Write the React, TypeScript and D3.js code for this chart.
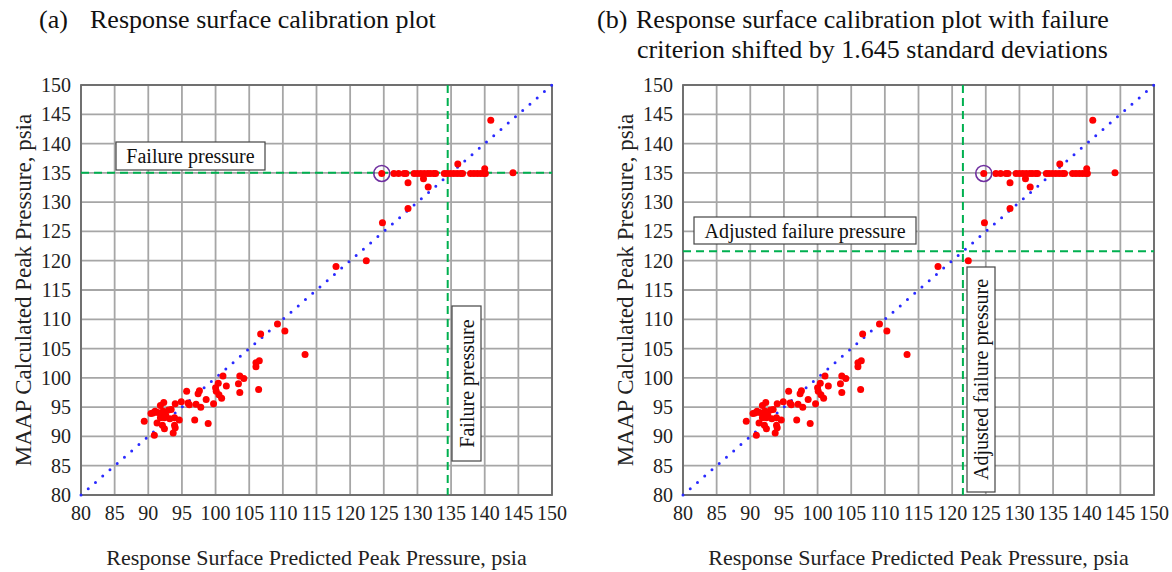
import React from "react";
import * as d3 from "d3";

// ---- data ----
const tickValues = [80, 85, 90, 95, 100, 105, 110, 115, 120, 125, 130, 135, 140, 145, 150];

const clusterX = [89.4, 90.4, 90.7, 91.0, 91.4, 91.8, 92.3, 92.2, 93.0, 93.4, 92.0, 92.6, 92.4, 91.8, 93.2, 93.9, 94.6, 91.3, 92.1, 92.4, 93.9, 94.0, 93.7, 90.9];
const clusterY = [92.6, 93.9, 94.0, 94.3, 94.1, 95.3, 95.8, 94.3, 94.5, 94.6, 93.6, 93.6, 93.2, 93.2, 93.0, 93.2, 92.8, 92.3, 91.9, 91.3, 91.9, 91.5, 90.6, 90.2];

const midX = [94.0, 94.9, 95.9, 96.1, 97.1, 97.8, 95.7, 97.4, 97.6, 96.9, 98.9, 98.6, 99.7, 100.0, 100.1, 100.5, 100.9, 100.4, 101.1, 101.6, 103.6, 104.2, 103.4, 103.6, 106.0, 106.5, 106.0, 106.4, 106.7, 109.2, 110.3, 113.3, 117.9, 122.4, 124.8, 128.6, 128.6, 130.9, 131.6, 136.0, 140.0, 140.9, 144.2];
const midY = [95.6, 95.9, 95.7, 95.4, 95.5, 95.0, 97.7, 97.3, 97.8, 92.8, 92.2, 96.3, 95.6, 98.3, 97.7, 97.1, 96.5, 99.1, 100.3, 98.6, 100.3, 99.9, 99.0, 97.5, 102.6, 102.9, 101.9, 98.0, 107.5, 109.2, 108.0, 104.0, 119.0, 120.0, 126.5, 128.9, 133.3, 134.0, 132.6, 136.5, 135.7, 144.0, 135.0];

// points capped at the failure pressure
const cappedX = [124.7, 126.5, 127.2, 128.0, 128.3, 129.5, 130.0, 130.5, 131.0, 131.5, 131.9, 132.4, 132.7, 134.0, 134.4, 134.9, 135.4, 135.9, 136.4, 136.7, 137.9, 138.4, 138.9, 139.4, 139.9, 140.1];
const cappedY = 134.9;

const failurePressure = 135;
const failurePressureX = 134.5;
const adjustedFailurePressure = 121.6;
const circledPoint = [124.7, 134.9];

const points: [number, number][] = [
  ...clusterX.map((x, i) => [x, clusterY[i]] as [number, number]),
  ...midX.map((x, i) => [x, midY[i]] as [number, number]),
  ...cappedX.map((x) => [x, cappedY] as [number, number]),
];

const FONT = "'Liberation Serif', 'Times New Roman', serif";

type PanelProps = {
  left: number;
  hLine: number;
  vLine: number;
  hBox: { x: number; y: number; w: number; h: number; text: string };
  vBox: { x: number; y: number; w: number; h: number; text: string };
};

function Panel({ left, hLine, vLine, hBox, vBox }: PanelProps) {
  const top = 85;
  const width = 471;
  const height = 410;
  const x = d3.scaleLinear().domain([80, 150]).range([left, left + width]);
  const y = d3.scaleLinear().domain([80, 150]).range([top + height, top]);
  const diag = d3.line<number>().x((d) => x(d)).y((d) => y(d))([80, 150]) || "";
  return (
    <g>
      {tickValues.map((t) => (
        <line key={"vx" + t} x1={x(t)} x2={x(t)} y1={top} y2={top + height} stroke="#a6a6a6" strokeWidth={1.8} />
      ))}
      {tickValues.map((t) => (
        <line key={"hy" + t} x1={left} x2={left + width} y1={y(t)} y2={y(t)} stroke="#a6a6a6" strokeWidth={1.8} />
      ))}
      <rect x={left} y={top} width={width} height={height} fill="none" stroke="#6b6b6b" strokeWidth={1.8} />
      {tickValues.map((t) => (
        <text key={"xl" + t} x={x(t)} y={520} textAnchor="middle" fontSize={20} fontFamily={FONT} fill="#222">
          {t}
        </text>
      ))}
      {tickValues.map((t) => (
        <text key={"yl" + t} x={left - 10} y={y(t) + 7} textAnchor="end" fontSize={20} fontFamily={FONT} fill="#222">
          {t}
        </text>
      ))}
      <path d={diag} stroke="#2a2aff" strokeWidth={3} strokeDasharray="0 9.6" strokeLinecap="round" fill="none" />
      <line x1={left} x2={left + width} y1={y(hLine)} y2={y(hLine)} stroke="#00b050" strokeWidth={2} strokeDasharray="8 5" />
      <line x1={x(vLine)} x2={x(vLine)} y1={top} y2={top + height} stroke="#00b050" strokeWidth={2} strokeDasharray="8 5" />
      {points.map((p, i) => (
        <circle key={"p" + i} cx={x(p[0])} cy={y(p[1])} r={3.5} fill="#ff0000" />
      ))}
      <circle cx={x(circledPoint[0])} cy={y(circledPoint[1])} r={8} fill="none" stroke="#7030a0" strokeWidth={1.6} />
      <rect x={hBox.x} y={hBox.y} width={hBox.w} height={hBox.h} fill="#fff" stroke="#444" strokeWidth={1.2} />
      <text x={hBox.x + hBox.w / 2} y={hBox.y + hBox.h / 2 + 7} textAnchor="middle" fontSize={20} fontFamily={FONT} fill="#111">
        {hBox.text}
      </text>
      <rect x={vBox.x} y={vBox.y} width={vBox.w} height={vBox.h} fill="#fff" stroke="#444" strokeWidth={1.2} />
      <text
        transform={`translate(${vBox.x + vBox.w / 2 + 7},${vBox.y + vBox.h / 2}) rotate(-90)`}
        textAnchor="middle"
        fontSize={20}
        fontFamily={FONT}
        fill="#111"
      >
        {vBox.text}
      </text>
      <text x={left + width / 2} y={565} textAnchor="middle" fontSize={22} fontFamily={FONT} fill="#222">
        Response Surface Predicted Peak Pressure, psia
      </text>
      <text
        transform={`translate(${left - 50},${top + height / 2}) rotate(-90)`}
        textAnchor="middle"
        fontSize={23}
        fontFamily={FONT}
        fill="#222"
      >
        MAAP Calculated Peak Pressure, psia
      </text>
    </g>
  );
}

export default function App() {
  return (
    <svg width={1172} height={572} style={{ position: "absolute", left: 0, top: 0, background: "#fff" }}>
      <rect width={1172} height={572} fill="#fff" />
      <text x={39} y={28} fontSize={26} fontFamily={FONT} fill="#111">(a)</text>
      <text x={90} y={28} fontSize={26} fontFamily={FONT} fill="#111">Response surface calibration plot</text>
      <text x={597} y={28} fontSize={26} fontFamily={FONT} fill="#111">(b)</text>
      <text x={636} y={28} fontSize={26} fontFamily={FONT} fill="#111">Response surface calibration plot with failure</text>
      <text x={637} y={58} fontSize={26} fontFamily={FONT} fill="#111">criterion shifted by 1.645 standard deviations</text>
      <Panel
        left={81}
        hLine={failurePressure}
        vLine={failurePressureX}
        hBox={{ x: 116, y: 142, w: 149, h: 28, text: "Failure pressure" }}
        vBox={{ x: 452, y: 306, w: 29, h: 155, text: "Failure pressure" }}
      />
      <Panel
        left={683}
        hLine={adjustedFailurePressure}
        vLine={adjustedFailurePressure}
        hBox={{ x: 694, y: 217, w: 222, h: 27, text: "Adjusted failure pressure" }}
        vBox={{ x: 967, y: 267, w: 28, h: 225, text: "Adjusted failure pressure" }}
      />
    </svg>
  );
}
